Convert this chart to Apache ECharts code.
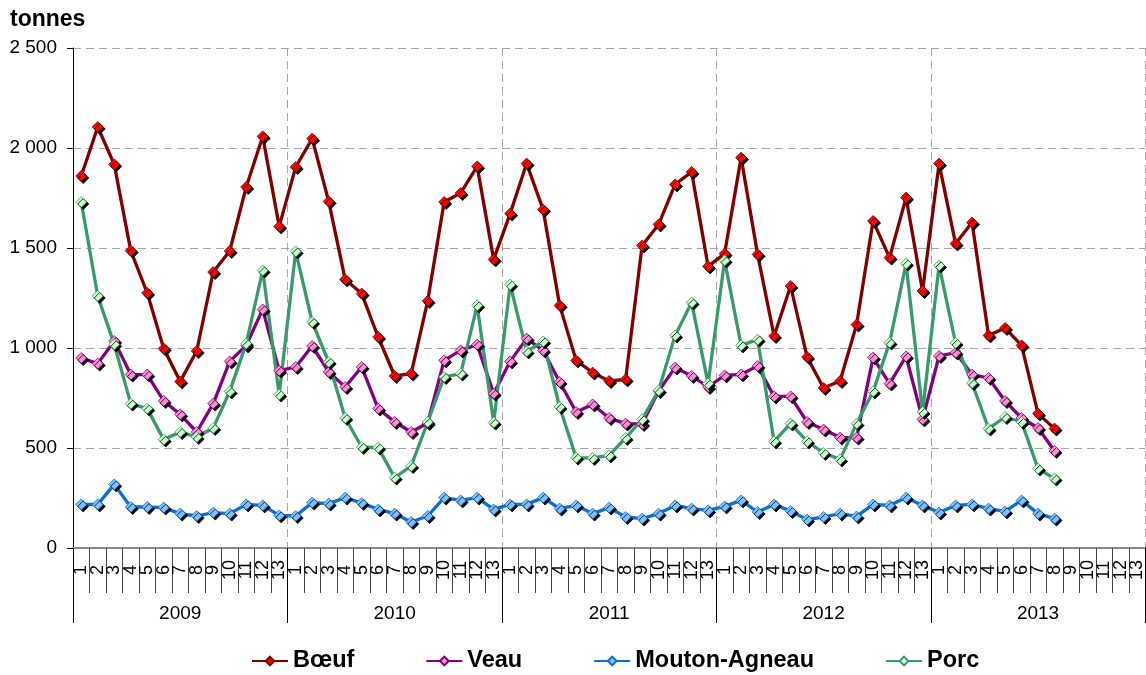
<!DOCTYPE html>
<html>
<head>
<meta charset="utf-8">
<title>Abattages mensuels</title>
<script src="https://cdn.jsdelivr.net/npm/echarts/dist/echarts.min.js"></script>
<style>
  html, body { margin: 0; padding: 0; background: #fff; overflow: hidden; }
  #chart { width: 1146px; height: 675px; }
</style>
</head>
<body>
<div id="chart"></div>
<script>
// Years and 13 four-week periods per year
const years = ['2009', '2010', '2011', '2012', '2013'];
const periods = ['1','2','3','4','5','6','7','8','9','10','11','12','13'];

// Monthly tonnages by species (2013 runs to period 8)
const boeuf = [
  1860, 2105, 1918, 1487, 1275, 997, 833, 985, 1380, 1485, 1805, 2058, 1608,
  1905, 2047, 1733, 1343, 1272, 1055, 860, 872, 1235, 1730, 1775, 1908, 1443,
  1672, 1922, 1692, 1213, 938, 877, 835, 843, 1513, 1618, 1818, 1880, 1408,
  1472, 1952, 1468, 1060, 1310, 955, 800, 835, 1117, 1635, 1452, 1752, 1285,
  1922, 1522, 1627, 1063, 1100, 1013, 672, 597
];
const veau = [
  950, 922, 1035, 867, 867, 735, 668, 580, 722, 933, 1013, 1193, 887,
  905, 1010, 880, 805, 905, 697, 630, 580, 625, 938, 988, 1017, 772,
  933, 1047, 988, 830, 680, 718, 650, 622, 620, 785, 902, 860, 805,
  863, 868, 910, 758, 758, 630, 592, 552, 552, 952, 822, 958, 643,
  960, 977, 867, 850, 735, 650, 600, 485
];
const mouton = [
  218, 218, 318, 205, 205, 202, 172, 160, 177, 172, 218, 213, 163,
  160, 227, 222, 252, 225, 193, 172, 130, 160, 252, 238, 252, 193,
  218, 218, 252, 197, 213, 172, 202, 155, 147, 172, 213, 197, 188,
  208, 238, 180, 218, 185, 142, 155, 172, 158, 218, 213, 252, 213,
  177, 213, 218, 197, 183, 238, 172, 147
];
const porc = [
  1730, 1260, 1018, 722, 697, 542, 580, 555, 600, 783, 1022, 1388, 767,
  1483, 1130, 930, 650, 505, 502, 352, 410, 630, 855, 872, 1213, 627,
  1317, 983, 1033, 705, 452, 450, 463, 550, 643, 788, 1063, 1227, 822,
  1438, 1013, 1042, 533, 622, 533, 475, 443, 622, 783, 1027, 1422, 680,
  1413, 1025, 825, 597, 655, 630, 397, 347
];

// One category per (year, period)
const categories = [];
years.forEach(y => periods.forEach(p => categories.push(p)));

const FONT = '"Liberation Sans", Arial, sans-serif';
const GRID_GREY = '#a6a6a6';

function makeSeries(name, data, lineColor, fillColor) {
  return {
    name: name,
    type: 'line',
    data: data,
    xAxisIndex: 0,
    symbol: 'diamond',
    symbolSize: 11,
    showAllSymbol: true,
    lineStyle: { color: lineColor, width: 3.3 },
    itemStyle: {
      color: fillColor,
      borderColor: lineColor,
      borderWidth: 0.8,
      shadowColor: 'rgba(0,0,0,1)',
      shadowOffsetX: 2,
      shadowOffsetY: 2,
      shadowBlur: 0
    },
    emphasis: { disabled: true },
    animation: false
  };
}

const chart = echarts.init(document.getElementById('chart'), null, { renderer: 'canvas' });

chart.setOption({
  backgroundColor: '#ffffff',
  animation: false,
  textStyle: { fontFamily: FONT },
  title: {
    text: 'tonnes',
    left: 5,
    top: 3,
    textStyle: { fontFamily: FONT, fontSize: 23, fontWeight: 'bold', color: '#000' }
  },
  // the closing boundary of the category axes falls just past the right edge
  grid: { left: 73, width: 1076, top: 48, bottom: 127, containLabel: false },
  legend: {
    bottom: 2,
    left: 251,
    padding: 0,
    itemWidth: 36,
    itemHeight: 11,
    itemGap: 71,
    textStyle: { fontFamily: FONT, fontSize: 23.5, fontWeight: 'bold', color: '#000' },
    itemStyle: { shadowBlur: 0, shadowOffsetX: 0, shadowOffsetY: 0, shadowColor: 'rgba(0,0,0,0)' },
    data: ['Bœuf', 'Veau', 'Mouton-Agneau', 'Porc']
  },
  xAxis: [
    {
      // periods 1..13 within each year
      type: 'category',
      position: 'bottom',
      data: categories,
      boundaryGap: true,
      axisLine: { show: true, lineStyle: { color: '#8a8a8a', width: 2 } },
      axisTick: { show: true, interval: 0, length: 45, lineStyle: { color: '#444', width: 1 } },
      axisLabel: {
        interval: 0,
        rotate: 90,
        margin: 22,
        align: 'center',
        verticalAlign: 'middle',
        fontFamily: FONT,
        fontSize: 18,
        color: '#000'
      },
      splitLine: { show: false }
    },
    {
      // years, with dashed separators through the plot
      type: 'category',
      position: 'bottom',
      data: years,
      boundaryGap: true,
      axisLine: { show: false },
      axisTick: { show: true, interval: 0, length: 75, lineStyle: { color: '#000', width: 1 } },
      axisLabel: { interval: 0, margin: 56, fontFamily: FONT, fontSize: 19, color: '#000' },
      splitLine: { show: true, interval: 0, lineStyle: { color: GRID_GREY, type: [8, 5], width: 1 } }
    }
  ],
  yAxis: {
    type: 'value',
    min: 0,
    max: 2500,
    interval: 500,
    axisLine: { show: true, lineStyle: { color: '#000', width: 1 } },
    axisTick: { show: true, length: 6, lineStyle: { color: '#000' } },
    axisLabel: {
      margin: 16,
      fontFamily: FONT,
      fontSize: 19,
      color: '#000',
      formatter: function (v) { return v >= 1000 ? String(v).replace(/\B(?=(\d{3})+(?!\d))/g, ' ') : String(v); }
    },
    splitLine: { show: true, lineStyle: { color: GRID_GREY, type: [8, 5], width: 1 } }
  },
  series: [
    makeSeries('Bœuf', boeuf, '#800000', '#ff0000'),
    makeSeries('Veau', veau, '#800080', '#ff8fd0'),
    makeSeries('Mouton-Agneau', mouton, '#0a6fd6', '#7fc0ff'),
    makeSeries('Porc', porc, '#3a9a6c', '#ccffcc')
  ]
});
</script>
</body>
</html>
